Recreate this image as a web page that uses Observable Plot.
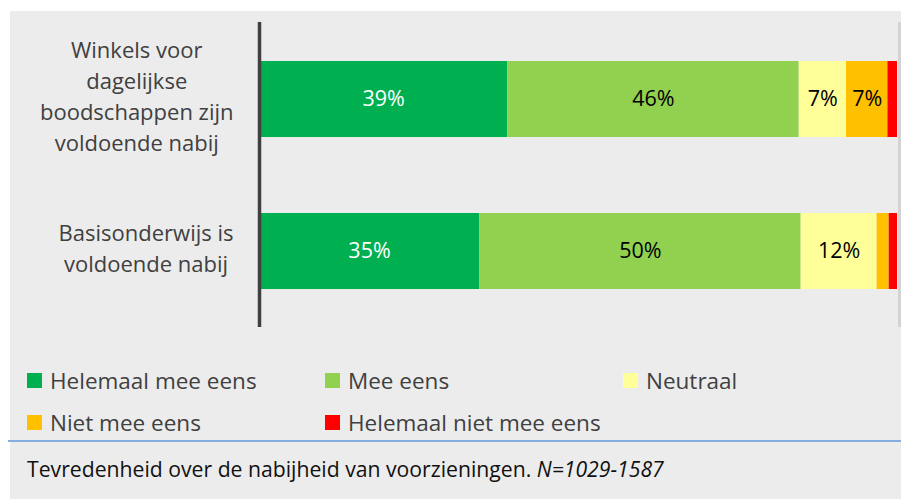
<!DOCTYPE html>
<html>
<head>
<meta charset="utf-8">
<script src="https://cdn.jsdelivr.net/npm/d3@7"></script>
<script src="https://cdn.jsdelivr.net/npm/@observablehq/plot@0.6"></script>
<style>
  html, body { margin: 0; padding: 0; background: #ffffff; }
  body { width: 901px; height: 499px; position: relative; overflow: hidden; font-family: "Open Sans", "Noto Sans", sans-serif; }
  #panel { position: absolute; left: 10px; top: 11px; width: 891px; height: 488px; background: #ececec; }
  #chart { position: absolute; left: 0; top: 0; }
  .leg { position: absolute; display: flex; align-items: center; font-size: 22.5px; color: #404040; white-space: nowrap; height: 30px; }
  .leg .sw { width: 15px; height: 15px; margin-right: 8px; flex: none; }
  #sep { position: absolute; left: -2px; right: 0; top: 429px; height: 0; border-top: 2px solid #84aee0; }
  #caption { position: absolute; left: 17px; top: 443px; font-size: 21.2px; color: #111; white-space: nowrap; }
</style>
</head>
<body>
<div id="panel">
  <div id="chart"></div>
  <div id="legend"></div>
  <div id="sep"></div>
  <div id="caption"></div>
</div>
<script>
// ---- data ----
const categories = [
  "Winkels voor dagelijkse boodschappen zijn voldoende nabij",
  "Basisonderwijs is voldoende nabij"
];
const categoryLines = [
  ["Winkels voor", "dagelijkse", "boodschappen zijn", "voldoende nabij"],
  ["Basisonderwijs is", "voldoende nabij"]
];
const series = ["Helemaal mee eens", "Mee eens", "Neutraal", "Niet mee eens", "Helemaal niet mee eens"];
const seriesColors = ["#00b050", "#92d050", "#ffff99", "#ffc000", "#ff0000"];
const valuesWinkels = [38.9, 45.7, 7.4, 6.5, 1.5];
const valuesBasis = [34.5, 50.4, 11.9, 1.9, 1.3];
const captionText = "Tevredenheid over de nabijheid van voorzieningen. ";
const captionN = "N=1029-1587";

// ---- build table ----
const valueRows = [valuesWinkels, valuesBasis];
const data = [];
categories.forEach((c, ci) => {
  series.forEach((s, si) => {
    data.push({category: c, series: s, value: valueRows[ci][si], idx: si});
  });
});

const W = 891, H = 340, ML = 249;
const FONT = "'Open Sans', 'Noto Sans', sans-serif";
const labelSize = 22;

// measure the widest line of each label so the block is right-aligned, lines centred
const ctx = document.createElement("canvas").getContext("2d");
ctx.font = `${labelSize}px ${FONT}`;
const blockRight = 223;
const labelMarks = categories.map((c, i) => {
  const wMax = d3.max(categoryLines[i], l => ctx.measureText(l).width);
  const center = blockRight - wMax / 2;
  return Plot.text([{category: c, label: categoryLines[i].join("\n")}], {
    y: "category", text: "label", frameAnchor: "left", textAnchor: "middle",
    dx: center - ML, dy: -5, lineHeight: 1.41, fontSize: labelSize, fill: "#404040"
  });
});

const plot = Plot.plot({
  width: W,
  height: H,
  marginLeft: ML,
  marginRight: 4,
  marginTop: 11,
  marginBottom: 24,
  style: {background: "transparent", fontFamily: FONT},
  x: {domain: [0, 100], axis: null},
  y: {domain: categories, axis: null, paddingInner: 0.5, paddingOuter: 0.25},
  color: {domain: series, range: seriesColors},
  marks: [
    Plot.ruleX([100], {stroke: "#d3d3d3", strokeWidth: 3, dx: 2}),
    Plot.barX(data, Plot.stackX({x: "value", y: "category", fill: "series"})),
    Plot.text(data, Plot.stackX({
      x: "value", y: "category",
      text: d => d.value >= 5 ? Math.round(d.value) + "%" : "",
      fill: d => d.idx === 0 ? "#ffffff" : "#000000",
      fontSize: 21.5
    })),
    Plot.ruleX([0], {stroke: "#404040", strokeWidth: 3.5}),
    ...labelMarks
  ]
});
document.getElementById("chart").appendChild(plot);

// ---- legend ----
const legend = document.getElementById("legend");
const colStep = 298, rowTops = [354, 396];
series.forEach((s, i) => {
  const row = i < 3 ? 0 : 1;
  const col = i < 3 ? i : i - 3;
  const item = document.createElement("div");
  item.className = "leg";
  item.style.left = (17 + col * colStep) + "px";
  item.style.top = rowTops[row] + "px";
  const sw = document.createElement("span");
  sw.className = "sw";
  sw.style.background = seriesColors[i];
  const tx = document.createElement("span");
  tx.textContent = s;
  item.appendChild(sw);
  item.appendChild(tx);
  legend.appendChild(item);
});

// ---- caption ----
const cap = document.getElementById("caption");
cap.appendChild(document.createTextNode(captionText));
const em = document.createElement("i");
em.textContent = captionN;
cap.appendChild(em);
</script>
</body>
</html>
